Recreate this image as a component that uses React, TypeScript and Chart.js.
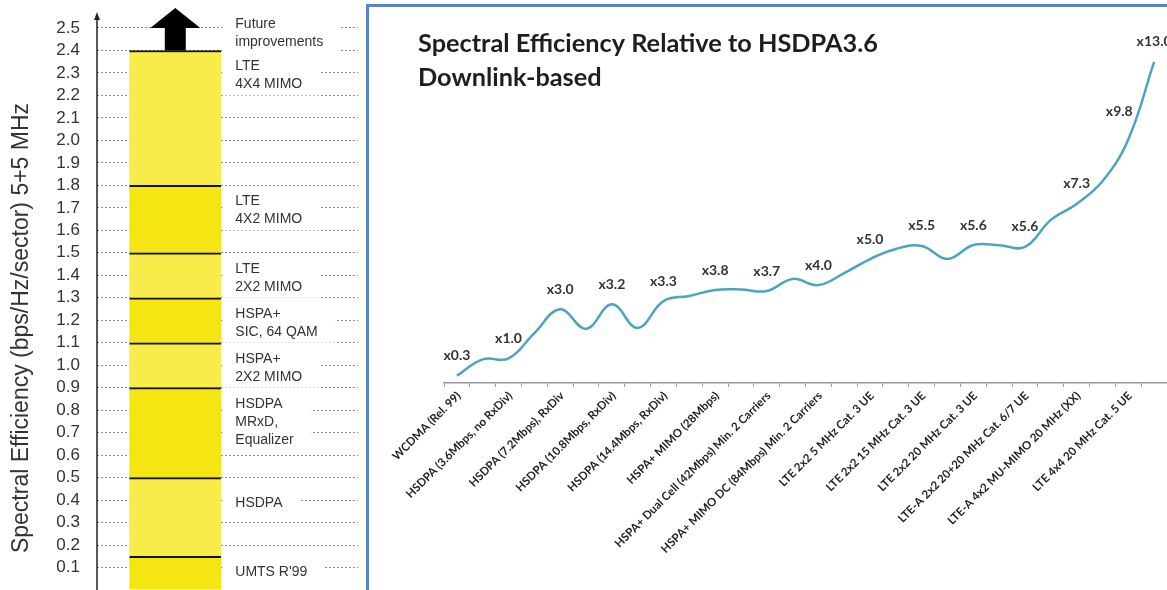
import React, { useEffect, useRef } from 'react';
import { Chart, registerables } from 'chart.js';

Chart.register(...registerables);

// ---------- Left panel data ----------
const segmentLow = [0, 0.15, 0.5, 0.9, 1.1, 1.3, 1.5, 1.8];
const segmentHigh = [0.15, 0.5, 0.9, 1.1, 1.3, 1.5, 1.8, 2.4];
const segmentNames = [
  ["UMTS R'99"],
  ['HSDPA'],
  ['HSDPA', 'MRxD,', 'Equalizer'],
  ['HSPA+', '2X2 MIMO'],
  ['HSPA+', 'SIC, 64 QAM'],
  ['LTE', '2X2 MIMO'],
  ['LTE', '4X2 MIMO'],
  ['LTE', '4X4 MIMO'],
];
const futureLabel = ['Future', 'improvements'];
const leftAxisTitle = 'Spectral Efficiency (bps/Hz/sector) 5+5 MHz';
const leftCategories = ['', 'bar', '', '', ''];

// ---------- Right panel data ----------
const techCategories = [
  'WCDMA (Rel. 99)',
  'HSDPA (3.6Mbps, no RxDiv)',
  'HSDPA (7.2Mbps), RxDiv',
  'HSDPA (10.8Mbps, RxDiv)',
  'HSDPA (14.4Mbps, RxDiv)',
  'HSPA+ MIMO (28Mbps)',
  'HSPA+ Dual Cell (42Mbps) Min. 2 Carriers',
  'HSPA+ MIMO DC (84Mbps) Min. 2 Carriers',
  'LTE 2x2 5 MHz Cat. 3 UE',
  'LTE 2x2 15 MHz Cat. 3 UE',
  'LTE 2x2 20 MHz Cat. 3 UE',
  'LTE-A 2x2 20+20 MHz Cat. 6/7 UE',
  'LTE-A 4x2 MU-MIMO 20 MHz (XX)',
  'LTE 4x4 20 MHz Cat. 5 UE',
];
const relEfficiency = [
  0.3, 0.96, 1.0, 2.03, 3.0, 2.2, 3.2, 2.24, 3.33, 3.54, 3.78, 3.8, 3.74, 4.23,
  3.98, 4.47, 5.04, 5.45, 5.57, 5.04, 5.61, 5.6, 5.53, 6.63, 7.28, 8.2, 9.9, 13.05,
];
const multiplierLabels = [
  'x0.3', 'x1.0', 'x3.0', 'x3.2', 'x3.3', 'x3.8', 'x3.7', 'x4.0', 'x5.0', 'x5.5',
  'x5.6', 'x5.6', 'x7.3', 'x9.8', 'x13.0',
];
const multiplierAt = [0, 2, 4, 6, 8, 10, 12, 14, 16, 18, 20, 22, 24, 26, 27];
const rightTitle = ['Spectral Efficiency Relative to HSDPA3.6', 'Downlink-based'];

const VIVID = '#f5e512';
const PALE = '#f7ec4a';
const TEXT = '#333333';

const leftDecor = {
  id: 'leftDecor',
  afterDatasetsDraw(chart: any) {
    const { ctx, chartArea, scales } = chart;
    const y = scales.y;
    const topMeta = chart.getDatasetMeta(segmentLow.length - 1);
    const bar = topMeta.data[1];
    const cx = bar.x;
    const right = bar.x + bar.width / 2;
    ctx.save();
    // big arrow
    const yBase = y.getPixelForValue(segmentHigh[segmentHigh.length - 1]);
    const yHead = y.getPixelForValue(2.5);
    const yTip = yHead - 20;
    ctx.fillStyle = '#000';
    ctx.beginPath();
    ctx.moveTo(cx - 10.5, yBase);
    ctx.lineTo(cx - 10.5, yHead);
    ctx.lineTo(cx - 25, yHead);
    ctx.lineTo(cx, yTip);
    ctx.lineTo(cx + 25, yHead);
    ctx.lineTo(cx + 10.5, yHead);
    ctx.lineTo(cx + 10.5, yBase);
    ctx.closePath();
    ctx.fill();

    // axis line with arrow
    const ax = chartArea.left;
    ctx.strokeStyle = '#222';
    ctx.lineWidth = 1.5;
    ctx.beginPath();
    ctx.moveTo(ax, chartArea.bottom);
    ctx.lineTo(ax, 18);
    ctx.stroke();
    ctx.fillStyle = '#222';
    ctx.beginPath();
    ctx.moveTo(ax - 3, 20);
    ctx.lineTo(ax, 12);
    ctx.lineTo(ax + 3, 20);
    ctx.closePath();
    ctx.fill();

    // labels
    ctx.font = '14px "Liberation Sans", Arial, sans-serif';
    ctx.textBaseline = 'middle';
    ctx.textAlign = 'left';
    const lh = 18;
    const drawBlock = (lines: string[], firstY: number) => {
      let w = 0;
      lines.forEach((l) => (w = Math.max(w, ctx.measureText(l).width)));
      ctx.fillStyle = '#fff';
      ctx.fillRect(right + 1, firstY - 11, w + 30, (lines.length - 1) * lh + 22);
      ctx.fillStyle = TEXT;
      lines.forEach((l, i) => ctx.fillText(l, right + 14, firstY + i * lh));
    };
    segmentNames.forEach((lines, i) => {
      const offset = lines.length === 1 && i > 0 ? 26 : 16;
      drawBlock(lines, y.getPixelForValue(segmentHigh[i]) + offset);
    });
    drawBlock(futureLabel, yBase - 26);

    // axis title
    ctx.save();
    ctx.translate(22, 328);
    ctx.rotate(-Math.PI / 2);
    ctx.textAlign = 'center';
    ctx.font = '23px "Liberation Sans", Arial, sans-serif';
    ctx.fillStyle = TEXT;
    ctx.fillText(leftAxisTitle, 0, 0);
    ctx.restore();
    ctx.restore();
  },
};

const rightDecor = {
  id: 'rightDecor',
  afterDatasetsDraw(chart: any) {
    const { ctx } = chart;
    const meta = chart.getDatasetMeta(0);
    ctx.save();
    ctx.font = 'bold 14px Lato, sans-serif';
    ctx.fillStyle = '#333';
    ctx.textAlign = 'center';
    ctx.textBaseline = 'middle';
    multiplierAt.forEach((idx, j) => {
      const pt = meta.data[idx];
      const steep = idx === 26;
      ctx.fillText(multiplierLabels[j], pt.x + (steep ? -9 : 0), pt.y - 20 + (steep ? -8 : 0));
    });
    ctx.font = 'bold 25.3px Lato, sans-serif';
    ctx.fillStyle = '#1e1e1e';
    ctx.textAlign = 'left';
    ctx.textBaseline = 'alphabetic';
    ctx.fillText(rightTitle[0], 48, 52);
    ctx.fillText(rightTitle[1], 48, 86);
    ctx.restore();
  },
};

export default function App() {
  const leftRef = useRef<HTMLCanvasElement>(null);
  const rightRef = useRef<HTMLCanvasElement>(null);

  useEffect(() => {
    const hidden = (v: number) => v < 0.05 || v > 2.55;
    const left = new Chart(leftRef.current as HTMLCanvasElement, {
      type: 'bar',
      data: {
        labels: leftCategories,
        datasets: segmentLow.map((lo, i) => ({
          data: leftCategories.map((c) => (c ? [lo, segmentHigh[i]] : null)),
          backgroundColor: i % 2 === 0 ? VIVID : PALE,
          borderColor: '#111',
          borderWidth: { top: 2, bottom: 0, left: 0, right: 0 },
          borderSkipped: false,
          barThickness: 92,
          grouped: false,
        })) as any,
      },
      options: {
        responsive: false,
        animation: false,
        layout: { padding: { top: 1, right: 7, left: 0, bottom: 0 } },
        plugins: { legend: { display: false }, tooltip: { enabled: false } },
        scales: {
          x: { display: false },
          y: {
            min: 0,
            max: 2.62,
            afterFit: (s: any) => {
              s.width = 97;
              s.paddingTop = 0;
              s.paddingBottom = 0;
            },
            border: { display: false, dash: [2, 2] },
            grid: {
              drawTicks: false,
              color: (c: any) => (hidden(c.tick.value) ? 'rgba(0,0,0,0)' : '#8a8a8a'),
              lineWidth: 1,
            },
            ticks: {
              stepSize: 0.1,
              autoSkip: false,
              padding: 17,
              color: TEXT,
              font: { family: '"Liberation Sans", Arial, sans-serif', size: 17 },
              callback: (v: any) => (hidden(Number(v)) ? '' : Number(v).toFixed(1)),
            },
          } as any,
        },
      },
      plugins: [leftDecor],
    });

    const right = new Chart(rightRef.current as HTMLCanvasElement, {
      type: 'line',
      data: {
        datasets: [
          {
            data: relEfficiency.map((v, i) => ({ x: i + 0.5, y: v })),
            borderColor: '#4ba5c0',
            borderWidth: 2.5,
            tension: 0.4,
            pointRadius: 0,
            fill: false,
          },
        ],
      },
      options: {
        responsive: false,
        animation: false,
        layout: { padding: { left: 74, right: 0, top: 38.6, bottom: 0 } },
        plugins: { legend: { display: false }, tooltip: { enabled: false } },
        scales: {
          x: {
            type: 'linear',
            min: 0,
            max: techCategories.length * 2,
            afterFit: (s: any) => {
              s.height = 207;
              s.paddingLeft = 0;
              s.paddingRight = 0;
            },
            border: { display: true, color: '#9a9a9a', width: 1.5 },
            grid: { drawOnChartArea: false, drawTicks: true, tickLength: 4, color: '#9a9a9a' },
            ticks: {
              stepSize: 1,
              autoSkip: false,
              minRotation: 45,
              maxRotation: 45,
              padding: 2,
              labelOffset: -11,
              color: '#222',
              font: { family: 'Lato, sans-serif', size: 11.5, weight: 'bold' },
              callback: (v: any) => {
                const n = Number(v);
                return n % 2 === 1 ? techCategories[(n - 1) / 2] : '';
              },
            },
          } as any,
          y: { display: false, min: 0, max: 14 },
        },
      },
      plugins: [rightDecor],
    });

    return () => {
      left.destroy();
      right.destroy();
    };
  }, []);

  return (
    <div
      style={{
        position: 'fixed',
        left: 0,
        top: 0,
        width: 1167,
        height: 590,
        overflow: 'hidden',
        background: '#fff',
      }}
    >
      <canvas
        ref={leftRef}
        width={365}
        height={590}
        style={{ position: 'absolute', left: 0, top: 0, width: 365, height: 590 }}
      />
      <div
        style={{
          position: 'absolute',
          left: 366,
          top: 4,
          width: 900,
          height: 700,
          border: '3px solid #5585c2',
          boxSizing: 'border-box',
        }}
      />
      <canvas
        ref={rightRef}
        width={797}
        height={590}
        style={{ position: 'absolute', left: 370, top: 0, width: 797, height: 590 }}
      />
    </div>
  );
}
